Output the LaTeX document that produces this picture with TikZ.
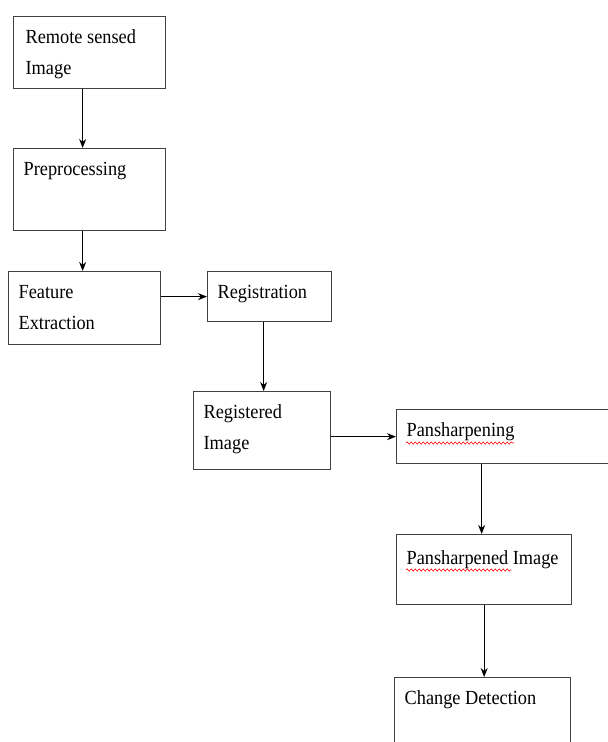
\documentclass[tikz,border=0pt]{standalone}
\usepackage{fontspec}
\setmainfont{Liberation Serif}[FakeStretch=0.915]
\usetikzlibrary{arrows.meta,decorations.pathmorphing}
\newcommand{\bxt}[3]{\parbox[t][#2][t]{#1}{\raggedright\rule{0pt}{27pt}#3}}
\begin{document}
\begin{tikzpicture}[x=1pt,y=-1pt,
  box/.style={draw=black!75, line width=1.3pt, anchor=north west, inner xsep=10pt, inner ysep=0pt,
    font=\fontsize{20}{31}\selectfont},
  arr/.style={-{Stealth[length=9pt,width=7pt]}, line width=1pt, black},
  squig/.style={red, line width=0.6pt, decorate, decoration={snake, amplitude=1.1pt, segment length=4pt}}]
\useasboundingbox (0,0) rectangle (608,742);
\clip (0,0) rectangle (608,742);
\node[box] (b1) at (13,16) {\bxt{132pt}{72pt}{\hspace*{2pt}Remote sensed\\\hspace*{2pt}Image}};
\node[box] (b2) at (13,148) {\bxt{132pt}{82pt}{Preprocessing}};
\node[box] (b3) at (8,271) {\bxt{132pt}{73pt}{Feature\\Extraction}};
\node[box] (b4) at (207,271) {\bxt{104pt}{50pt}{Registration}};
\node[box] (b5) at (193,391) {\bxt{117pt}{78pt}{Registered\\Image}};
\node[box] (b6) at (396,409) {\bxt{196pt}{54pt}{Pansharpening}};
\node[box] (b7) at (396,534) {\bxt{155pt}{70pt}{\rule{0pt}{30pt}\mbox{Pansharpened Image}}};
\node[box] (b8) at (394,677) {\bxt{156pt}{90pt}{Change Detection}};
\draw[arr] ([xshift=-7pt]b1.south) -- ([xshift=-7pt]b1.south |- b2.north);
\draw[arr] ([xshift=-7pt]b2.south) -- ([xshift=-7pt]b2.south |- b3.north);
\draw[arr] (b3.east |- b4.west) -- (b4.west);
\draw[arr] ([xshift=-6pt]b4.south) -- ([xshift=-6pt]b4.south |- b5.north);
\draw[arr] (b5.east |- b6.west) -- (b6.west);
\draw[arr] ([xshift=-23pt]b6.south) -- ([xshift=-23pt]b6.south |- b7.north);
\draw[arr] (b7.south) -- (b7.south |- b8.north);
\draw[squig] (406,443) -- (514,443);
\draw[squig] (406,570) -- (511,570);
\end{tikzpicture}
\end{document}
